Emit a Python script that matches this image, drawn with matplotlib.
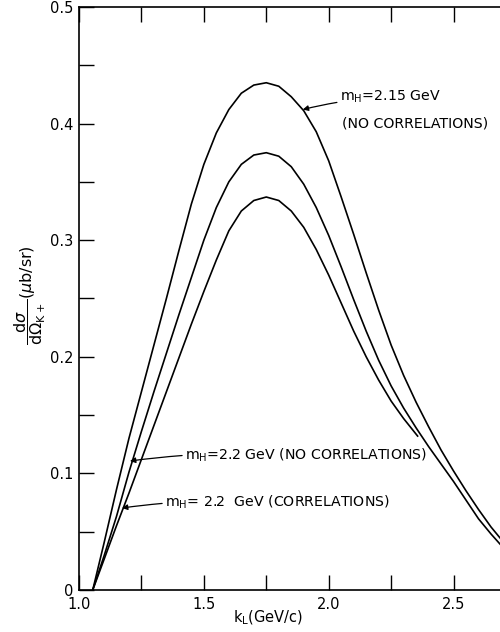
import matplotlib.pyplot as plt
import numpy as np

# curve 1 : m_H = 2.15 GeV, no correlations
x_215 = [1.055, 1.10, 1.15, 1.20, 1.25, 1.30, 1.35, 1.40, 1.45, 1.50, 1.55, 1.60,
         1.65, 1.70, 1.75, 1.80, 1.85, 1.90, 1.95, 2.00, 2.05, 2.10, 2.15, 2.20,
         2.25, 2.30, 2.35, 2.40, 2.45, 2.50, 2.55, 2.60, 2.65, 2.70]
y_215 = [0.0, 0.040, 0.086, 0.130, 0.170, 0.210, 0.250, 0.291, 0.331, 0.365, 0.392, 0.412,
         0.426, 0.433, 0.435, 0.432, 0.423, 0.411, 0.393, 0.368, 0.337, 0.305, 0.272, 0.240,
         0.210, 0.184, 0.161, 0.140, 0.120, 0.102, 0.085, 0.069, 0.054, 0.041]

# curve 2 : m_H = 2.2 GeV, no correlations
x_22n = [1.055, 1.10, 1.15, 1.20, 1.25, 1.30, 1.35, 1.40, 1.45, 1.50, 1.55, 1.60,
         1.65, 1.70, 1.75, 1.80, 1.85, 1.90, 1.95, 2.00, 2.05, 2.10, 2.15, 2.20,
         2.25, 2.30, 2.35, 2.40, 2.45, 2.50, 2.55, 2.60, 2.65, 2.70]
y_22n = [0.0, 0.029, 0.063, 0.101, 0.136, 0.170, 0.203, 0.236, 0.268, 0.300, 0.328, 0.350,
         0.365, 0.373, 0.375, 0.372, 0.363, 0.348, 0.328, 0.304, 0.277, 0.249, 0.222, 0.197,
         0.175, 0.156, 0.139, 0.123, 0.108, 0.093, 0.077, 0.061, 0.048, 0.036]

# curve 3 : m_H = 2.2 GeV, correlations (stops at 2.35)
x_22c = [1.055, 1.10, 1.15, 1.20, 1.25, 1.30, 1.35, 1.40, 1.45, 1.50, 1.55, 1.60,
         1.65, 1.70, 1.75, 1.80, 1.85, 1.90, 1.95, 2.00, 2.05, 2.10, 2.15, 2.20,
         2.25, 2.30, 2.356]
y_22c = [0.0, 0.026, 0.055, 0.083, 0.112, 0.141, 0.170, 0.199, 0.228, 0.256, 0.283, 0.308,
         0.325, 0.334, 0.337, 0.334, 0.325, 0.311, 0.292, 0.270, 0.246, 0.222, 0.200, 0.180,
         0.162, 0.147, 0.132]

xticks = [1.0, 1.5, 2.0, 2.5]
xtick_labels = ['1.0', '1.5', '2.0', '2.5']
yticks = [0, 0.1, 0.2, 0.3, 0.4, 0.5]
ytick_labels = ['0', '0.1', '0.2', '0.3', '0.4', '0.5']

fig = plt.figure(figsize=(5, 6.32), dpi=100)
# axes runs past the right edge of the picture (the scan is cropped)
ax = fig.add_axes([0.158, 0.0665, 0.874, 0.9225])

for xs, ys in [(x_215, y_215), (x_22n, y_22n), (x_22c, y_22c)]:
    ax.plot(xs, ys, c='black', linewidth=1.2, solid_joinstyle='round')

ax.set_xlim(1.0, 2.75)
ax.set_ylim(0, 0.5)
ax.set_xticks(xticks)
ax.set_xticklabels(xtick_labels)
ax.set_yticks(yticks)
ax.set_yticklabels(ytick_labels)
ax.set_xticks(np.arange(1.25, 2.75, 0.5), minor=True)
ax.set_yticks(np.arange(0.05, 0.5, 0.1), minor=True)
ax.tick_params(which='both', direction='in', length=11, width=1.0,
               top=True, right=True, labelsize=10.5)
ax.tick_params(axis='x', pad=5)
ax.tick_params(axis='y', pad=4)
for s in ax.spines.values():
    s.set_linewidth(1.2)

# labels
ax.text(0.432, -0.048, r'k$_\mathrm{L}$(GeV/c)', transform=ax.transAxes,
        ha='center', va='center', fontsize=10.5)
ax.text(-0.112, 0.506,
        r'$\dfrac{\mathrm{d}\sigma}{\mathrm{d}\Omega_{\mathrm{K}+}}$($\mu$b/sr)',
        transform=ax.transAxes, ha='center', va='center', rotation=90, fontsize=11.5)

arrow = dict(arrowstyle='-|>', color='black', lw=0.9, mutation_scale=8,
             shrinkA=0, shrinkB=0, connectionstyle='arc3,rad=0.05')
ax.annotate(r'm$_\mathrm{H}$=2.15 GeV', xy=(1.896, 0.412), xytext=(2.044, 0.423),
            ha='left', va='center', fontsize=10.2, arrowprops=arrow)
ax.text(2.052, 0.3997, '(NO CORRELATIONS)', ha='left', va='center', fontsize=10.2)
ax.annotate(r'm$_\mathrm{H}$=2.2 GeV (NO CORRELATIONS)', xy=(1.204, 0.1106),
            xytext=(1.424, 0.1158), ha='left', va='center', fontsize=10.2, arrowprops=arrow)
ax.annotate(r'm$_\mathrm{H}$= 2.2  GeV (CORRELATIONS)', xy=(1.172, 0.0703),
            xytext=(1.344, 0.0755), ha='left', va='center', fontsize=10.2, arrowprops=arrow)

plt.savefig('out.png')
